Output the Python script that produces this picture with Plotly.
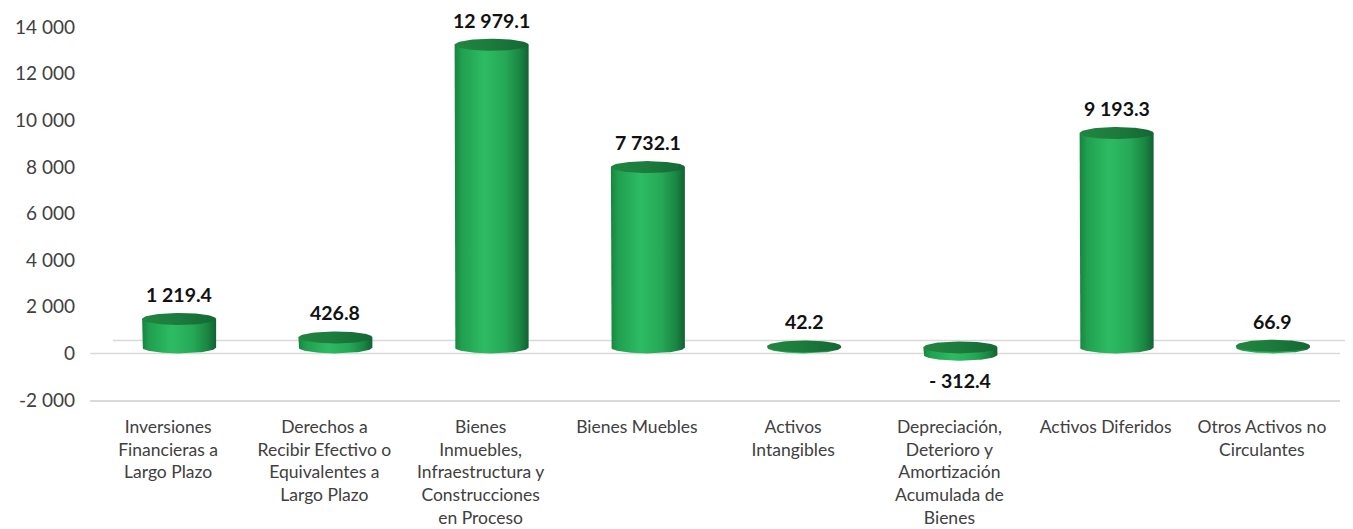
import numpy as np
import plotly.graph_objects as go

# ---------------- data ----------------
categories = [
    "Inversiones<br>Financieras a<br>Largo Plazo",
    "Derechos a<br>Recibir Efectivo o<br>Equivalentes a<br>Largo Plazo",
    "Bienes<br>Inmuebles,<br>Infraestructura y<br>Construcciones<br>en Proceso",
    "Bienes Muebles",
    "Activos<br>Intangibles",
    "Depreciación,<br>Deterioro y<br>Amortización<br>Acumulada de<br>Bienes",
    "Activos Diferidos",
    "Otros Activos no<br>Circulantes",
]
values = [1219.4, 426.8, 12979.1, 7732.1, 42.2, -312.4, 9193.3, 66.9]
value_labels = ["1 219.4", "426.8", "12 979.1", "7 732.1", "42.2", "- 312.4", "9 193.3", "66.9"]
y_ticks = [-2000, 0, 2000, 4000, 6000, 8000, 10000, 12000, 14000]
y_tick_labels = ["-2 000", "0", "2 000", "4 000", "6 000", "8 000", "10 000", "12 000", "14 000"]

# ---------------- geometry / style ----------------
# the page body adds an 8px offset, so the figure is 8px smaller and margins shifted
Y_MIN, Y_MAX = -2000, 14000
W, H = 1345, 521
M_L, M_R, M_T, M_B = 82, 13, 19, 129
PLOT_W = W - M_L - M_R
PLOT_H = H - M_T - M_B
upx = (Y_MAX - Y_MIN) / PLOT_H          # y data units per pixel
cpx = len(categories) / PLOT_W          # categories per pixel
half_w = 37 * cpx                        # cylinder half width
eb = 6 * upx                             # ellipse semi-minor axis
dx = 11 * cpx                            # 3D depth offset (x)
dy = 6 * upx                             # 3D depth offset (y)

body_cs = [[0, "#188440"], [0.1, "#21a050"], [0.4, "#2dbb62"], [0.68, "#26a957"],
           [0.88, "#1a8642"], [1, "#116234"]]
top_cs = [[0, "#21863e"], [0.45, "#1c7c3d"], [1, "#146833"]]

fig = go.Figure()

t_full = np.linspace(0, 2 * np.pi, 97)
t_low = np.linspace(np.pi, 2 * np.pi, 49)

for i, v in enumerate(values):
    cx = i + dx
    top = max(v, 0) + dy
    bot = min(v, 0) + dy
    bx = [cx - half_w] + list(cx + half_w * np.cos(t_low)) + [cx + half_w, cx - half_w]
    by = [top] + list(bot + eb * np.sin(t_low)) + [top, top]
    fig.add_trace(go.Scatter(
        x=bx, y=by, mode="lines", fill="toself", line=dict(width=0),
        fillgradient=dict(type="horizontal", colorscale=body_cs),
        hoverinfo="skip", showlegend=False))
    ex = cx + half_w * np.cos(t_full)
    ey = top + eb * np.sin(t_full)
    fig.add_trace(go.Scatter(
        x=ex, y=ey, mode="lines", fill="toself", line=dict(width=0),
        fillgradient=dict(type="horizontal", colorscale=top_cs),
        hoverinfo="skip", showlegend=False))
    if v >= 0:
        fig.add_annotation(x=cx, y=top + eb, text=value_labels[i], showarrow=False,
                           yanchor="bottom", yshift=5,
                           font=dict(family="Lato", size=19.5, color="#111111", weight="bold"))
    else:
        fig.add_annotation(x=cx, y=bot - eb, text=value_labels[i], showarrow=False,
                           yanchor="top", yshift=-6,
                           font=dict(family="Lato", size=19.5, color="#111111", weight="bold"))

# floor lines (front & back edges of the 3D floor at 0)
zero_p = (0 - Y_MIN) / (Y_MAX - Y_MIN)
fig.add_shape(type="line", xref="paper", yref="paper", x0=0, x1=1, y0=zero_p, y1=zero_p,
              line=dict(color="#d9d9d9", width=1.5), layer="below")
fig.add_shape(type="line", xref="paper", yref="paper", x0=23 / PLOT_W, x1=1 + 23 / PLOT_W,
              y0=zero_p + 13 / PLOT_H, y1=zero_p + 13 / PLOT_H,
              line=dict(color="#d9d9d9", width=1.5), layer="below")

fig.update_layout(
    width=W, height=H,
    margin=dict(l=M_L, r=M_R, t=M_T, b=M_B, autoexpand=False),
    paper_bgcolor="white", plot_bgcolor="white",
    font=dict(family="Lato", color="#404040"),
    xaxis=dict(range=[-0.5, len(categories) - 0.5], tickvals=list(range(len(categories))),
               ticktext=categories, showgrid=False, zeroline=False, showline=True,
               linecolor="#d9d9d9", linewidth=1.5, ticks="", ticklabelstandoff=10,
               automargin=False,
               tickfont=dict(family="Lato", size=17.5, color="#404040"), fixedrange=True),
    yaxis=dict(range=[Y_MIN, Y_MAX], tickvals=y_ticks, ticktext=y_tick_labels,
               showgrid=False, zeroline=False, showline=False, ticks="",
               ticklabelstandoff=14, automargin=False,
               tickfont=dict(family="Lato", size=19, color="#404040"), fixedrange=True),
)

fig.write_html("out.html")
